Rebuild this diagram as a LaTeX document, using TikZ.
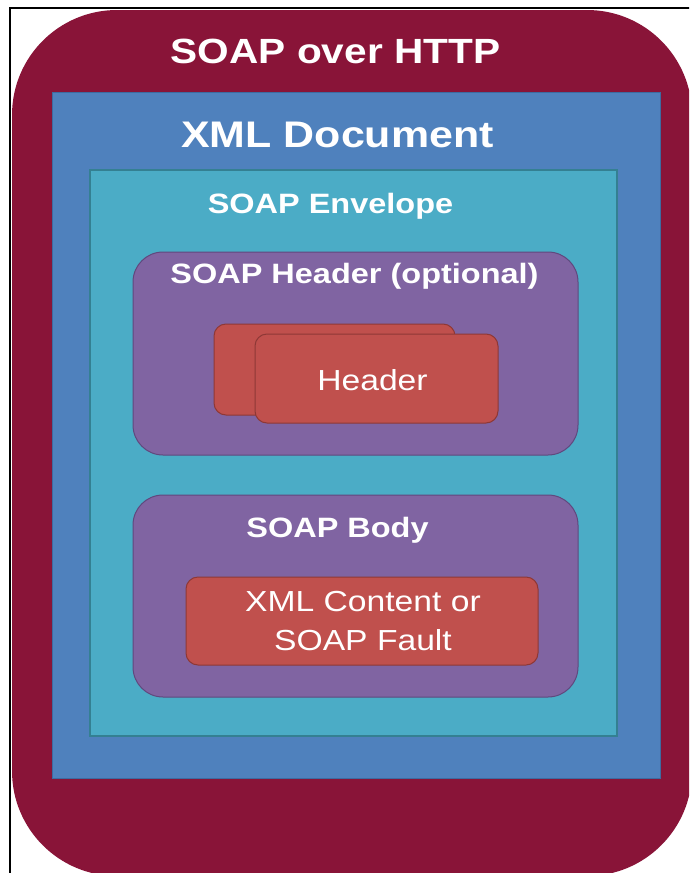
\documentclass[tikz,border=0pt]{standalone}
\usepackage{fontspec}
\setmainfont[FakeStretch=1.16]{Liberation Sans}
\definecolor{httpred}{RGB}{137,20,56}
\definecolor{xmlblue}{RGB}{79,129,189}
\definecolor{xmlblueline}{RGB}{61,107,160}
\definecolor{envteal}{RGB}{75,172,198}
\definecolor{envtealline}{RGB}{52,128,146}
\definecolor{partpurple}{RGB}{128,100,162}
\definecolor{partpurpleline}{RGB}{96,72,126}
\definecolor{itemred}{RGB}{192,80,77}
\definecolor{itemredline}{RGB}{142,56,54}

\tikzset{
  title/.style={text=white, inner sep=0pt, anchor=base, font=\bfseries\fontsize{28}{34}\selectfont},
  itemtext/.style={text=white, inner sep=0pt, anchor=base, font=\fontsize{29}{39}\selectfont, align=center},
}

\begin{document}
\begin{tikzpicture}[x=1pt,y=-1pt]
\useasboundingbox (0,0) rectangle (689,873);
\clip (0,0) rectangle (689,873);

% outer frame
\draw[color=black, line width=2pt] (10,880) -- (10,8) -- (695,8);

% nested boxes
\fill[color=httpred, rounded corners=105pt] (12,10) rectangle (692,876);
\filldraw[fill=xmlblue, draw=xmlblueline, line width=1pt] (52,92) rectangle (660,778);
\filldraw[fill=envteal, draw=envtealline, line width=1.5pt] (90,170) rectangle (617,736);
\filldraw[fill=partpurple, draw=partpurpleline, line width=1pt, rounded corners=30pt] (133,252) rectangle (578,455);
\filldraw[fill=partpurple, draw=partpurpleline, line width=1pt, rounded corners=30pt] (133,495) rectangle (578,697);
\filldraw[fill=itemred, draw=itemredline, line width=1pt, rounded corners=12pt] (214,324) rectangle (455,415);
\filldraw[fill=itemred, draw=itemredline, line width=1pt, rounded corners=12pt] (255,334) rectangle (498,423);
\filldraw[fill=itemred, draw=itemredline, line width=1pt, rounded corners=12pt] (186,577) rectangle (538,665);

% labels
\node[title, font=\bfseries\fontsize{35}{42}\selectfont] (http) at (335.5,63) {SOAP over HTTP};
\node[title, font=\bfseries\fontsize{37}{44}\selectfont] (xmldoc) at (337.5,147) {XML Document};
\node[title] (envelope) at (330.5,213) {SOAP Envelope};
\node[title] (header) at (354.5,283) {SOAP Header (optional)};
\node[title] (body) at (337.5,537) {SOAP Body};
\node[itemtext] (headeritem) at (372.5,390) {Header};
\node[itemtext] (content) at (363,611) {XML Content or};
\node[itemtext] (fault) at (363,650) {SOAP Fault};
\end{tikzpicture}
\end{document}
